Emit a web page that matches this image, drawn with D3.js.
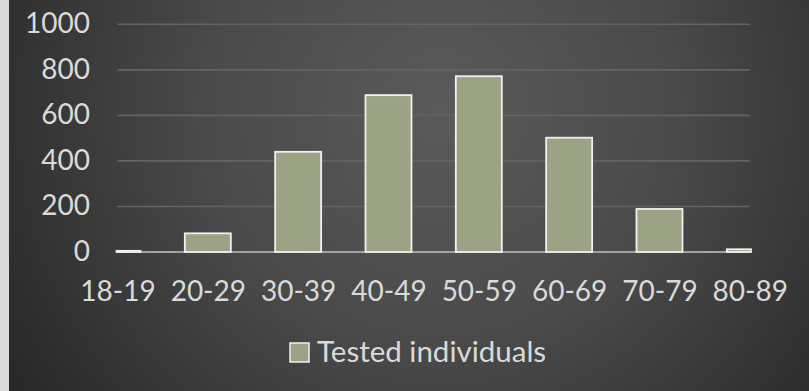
<!DOCTYPE html>
<html>
<head>
<meta charset="utf-8">
<script src="https://cdn.jsdelivr.net/npm/d3@7"></script>
<style>
  html, body { margin: 0; padding: 0; background: #2e2e2e; }
  svg { display: block; }
  text { font-family: "Lato", "Open Sans", sans-serif; fill: #dadada; }
</style>
</head>
<body>
<svg id="chart" width="809" height="391"></svg>
<script>
// Age groups and number of tested individuals in each
const categories = ["18-19", "20-29", "30-39", "40-49", "50-59", "60-69", "70-79", "80-89"];
const testedIndividuals = [5, 82, 440, 689, 772, 502, 189, 12];
const yTicks = [0, 200, 400, 600, 800, 1000];
const seriesName = "Tested individuals";

const W = 809, H = 391;
const svg = d3.select("#chart");

// Backdrop: light strip on the left edge, dark radial shading elsewhere
const defs = svg.append("defs");
const grad = defs.append("radialGradient")
  .attr("id", "bg")
  .attr("gradientUnits", "userSpaceOnUse")
  .attr("cx", 440).attr("cy", 110).attr("r", 520)
  .attr("fx", 440).attr("fy", 110);
grad.append("stop").attr("offset", "0%").attr("stop-color", "#5a5a5a");
grad.append("stop").attr("offset", "45%").attr("stop-color", "#4a4a4a");
grad.append("stop").attr("offset", "100%").attr("stop-color", "#262626");

svg.append("rect").attr("x", 0).attr("y", 0).attr("width", W).attr("height", H).attr("fill", "url(#bg)");
svg.append("rect").attr("x", 0).attr("y", 0).attr("width", 9).attr("height", H).attr("fill", "#dadada");

// Scales: categories sit on the tick marks, so the end bars are cut in half
const x = d3.scalePoint().domain(categories).range([117.5, 749.8]);
const y = d3.scaleLinear().domain([0, 1000]).range([252, 24.3]);
const plotLeft = 116.5, plotRight = 751;
const barW = 46;

// Horizontal gridlines
svg.append("g")
  .selectAll("line")
  .data(yTicks.filter(d => d > 0))
  .join("line")
  .attr("x1", x.range()[0]).attr("x2", x.range()[1])
  .attr("y1", d => y(d)).attr("y2", d => y(d))
  .attr("stroke", "#636363")
  .attr("stroke-width", 1.6);

// Y axis labels
const yAxis = d3.axisLeft(y).tickValues(yTicks).tickSize(0).tickPadding(0).tickFormat(d3.format("d"));
svg.append("g")
  .attr("transform", "translate(90,0)")
  .call(yAxis)
  .call(g => g.select(".domain").remove())
  .call(g => g.selectAll("text")
    .attr("dy", "0.3em")
    .style("font-size", "28px")
    .attr("fill", "#dadada"));

// Baseline
svg.append("line")
  .attr("x1", x.range()[0]).attr("x2", x.range()[1])
  .attr("y1", y(0)).attr("y2", y(0))
  .attr("stroke", "#a3a3a3")
  .attr("stroke-width", 1.8);

// Bars, clipped to the plot's horizontal extent
svg.append("g")
  .selectAll("rect")
  .data(categories.map((c, i) => ({ c, v: testedIndividuals[i] })))
  .join("rect")
  .attr("x", d => Math.max(x(d.c) - barW / 2, plotLeft))
  .attr("width", d => Math.min(x(d.c) + barW / 2, plotRight) - Math.max(x(d.c) - barW / 2, plotLeft))
  .attr("y", d => y(d.v))
  .attr("height", d => y(0) - y(d.v))
  .attr("fill", "#9ca384")
  .attr("stroke", "#f0f0f0")
  .attr("stroke-width", 1.8);

// X axis labels
const xAxis = d3.axisBottom(x).tickSize(0).tickPadding(0);
svg.append("g")
  .attr("transform", "translate(0,300.5)")
  .call(xAxis)
  .call(g => g.select(".domain").remove())
  .call(g => g.selectAll("text")
    .attr("dy", 0)
    .attr("y", 0)
    .style("font-size", "28px")
    .attr("fill", "#dadada"));

// Legend
const legend = svg.append("g").attr("transform", "translate(290,343)");
legend.append("rect")
  .attr("width", 19).attr("height", 19)
  .attr("fill", "#9ca384")
  .attr("stroke", "#f0f0f0")
  .attr("stroke-width", 1.5);
legend.append("text")
  .attr("x", 27).attr("y", 19)
  .style("font-size", "29.5px")
  .text(seriesName);
</script>
</body>
</html>
